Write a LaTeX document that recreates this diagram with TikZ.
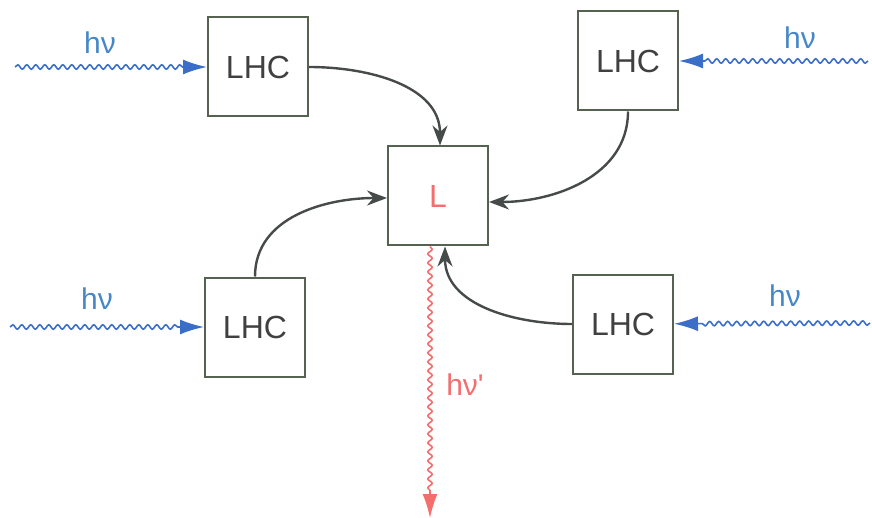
\documentclass[tikz,border=0pt]{standalone}
\usepackage{fontspec}
\setmainfont{Liberation Sans}
\usetikzlibrary{arrows.meta,decorations.pathmorphing}
\definecolor{boxline}{RGB}{86,98,80}
\definecolor{arrowgray}{RGB}{70,74,72}
\definecolor{photonblue}{RGB}{58,110,200}
\definecolor{labelblue}{RGB}{70,135,200}
\definecolor{emitred}{RGB}{245,110,110}
\begin{document}
\begin{tikzpicture}[x=0.5pt, y=-0.5pt,
    main/.style={rectangle, draw=boxline, line width=1pt, fill=white, minimum width=50pt, minimum height=49.5pt, font=\fontsize{16}{19}\selectfont, text=black!75},
    transfer/.style={draw=arrowgray, line width=1.2pt, -{Stealth[length=10pt, width=7.5pt]}},
    photon/.style={draw=photonblue, line width=0.8pt, -{Latex[length=12pt, width=7.5pt]},
        decorate, decoration={snake, amplitude=1.1pt, segment length=4.5pt, post length=12pt}},
    emission/.style={draw=emitred, line width=0.8pt, -{Latex[length=12pt, width=7.5pt]},
        decorate, decoration={snake, amplitude=1.1pt, segment length=4.5pt, post length=12pt}},
    lbl/.style={font=\fontsize{15}{18}\selectfont}]
    \useasboundingbox (0,0) rectangle (872,518);
    % antenna complexes and the centre
    \node[main] (1) at (258,67) {LHC};
    \node[main] (2) at (628,61) {LHC};
    \node[main, text=emitred] (5) at (438,196) {L};
    \node[main] (3) at (255,327) {LHC};
    \node[main] (4) at (623,324) {LHC};
    % incoming light
    \coordinate (s1) at (15,67);
    \coordinate (s2) at (868,61);
    \coordinate (s3) at (10,327);
    \coordinate (s4) at (870,323);
    \coordinate (s5) at (430,518);
    \draw[photon] (s1) -- (1);
    \draw[photon] (s2) -- (2);
    \draw[photon] (s3) -- (3);
    \draw[photon] (s4) -- (4);
    \node[lbl, text=labelblue] (h1) at (100,43) {hν};
    \node[lbl, text=labelblue] (h2) at (800,38) {hν};
    \node[lbl, text=labelblue] (h3) at (97,299) {hν};
    \node[lbl, text=labelblue] (h4) at (785,296) {hν};
    % energy transfer
    \draw[transfer] (1.east) to[out=0, in=90] ([xshift=1pt]5.north);
    \draw[transfer] (2.south) to[out=-90, in=0] ([yshift=-3pt]5.east);
    \draw[transfer] (3.north) to[out=90, in=180] ([yshift=-1pt]5.west);
    \draw[transfer] (4.west) to[out=180, in=-90] ([xshift=3.5pt]5.south);
    % emission
    \draw[emission] ([xshift=-4pt]5.south) -- (s5);
    \node[lbl, text=emitred] (h5) at (465,385) {hν\textquotesingle};
\end{tikzpicture}
\end{document}
